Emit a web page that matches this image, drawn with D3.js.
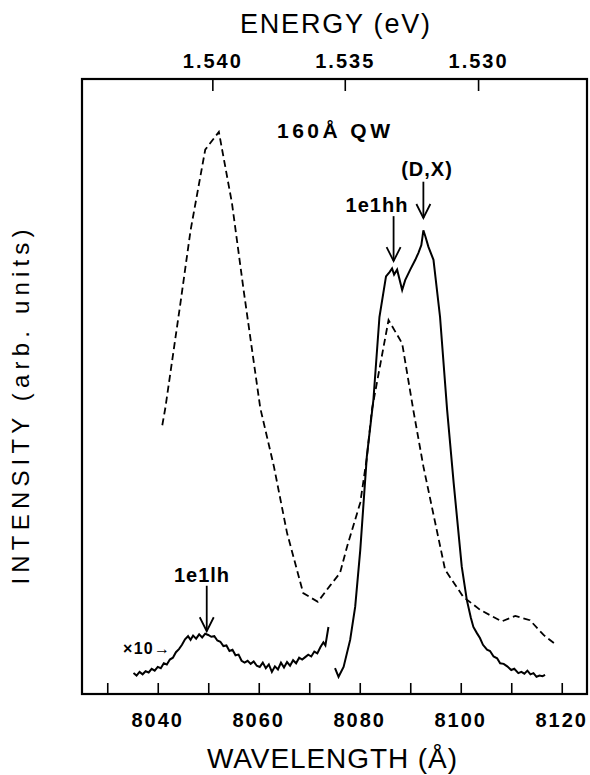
<!DOCTYPE html>
<html>
<head>
<meta charset="utf-8">
<script src="https://cdn.jsdelivr.net/npm/d3@7"></script>
<style>
  body { margin: 0; background: #fff; }
  text { font-family: "Liberation Sans", Arial, sans-serif; fill: #000; }
</style>
</head>
<body>
<script>
// reflectance-like dashed trace (wavelength A, arb. units)
var dashWl = [8040.9, 8041.5, 8044.5, 8046.5, 8049.4, 8052.1, 8054.7, 8057.0, 8060.3, 8063.0,
  8065.6, 8068.8, 8071.7, 8074.2, 8076.1, 8077.5, 8080.1, 8081.4, 8082.4, 8085.7,
  8088.4, 8090.6, 8092.6, 8096.9, 8100.5, 8103.8, 8108.1, 8110.8, 8113.7, 8116.4, 8118.9];
var dashI = [43.7, 46.5, 63.6, 75.4, 88.5, 91.4, 79.8, 65.7, 46.5, 37.0,
  26.2, 16.4, 15.0, 17.7, 19.7, 24.0, 31.1, 38.4, 46.2, 60.8,
  57.0, 46.2, 37.0, 20.2, 15.8, 13.7, 11.8, 12.7, 12.0, 9.6, 8.0];

// PL main peak (solid)
var plWl = [8075.1, 8075.8, 8076.8, 8078.1, 8079.1, 8080.1, 8081.4, 8082.7, 8083.9, 8085.2,
  8085.9, 8086.4, 8086.8, 8087.4, 8088.4, 8089.0, 8090.0, 8091.0, 8091.6, 8092.2,
  8092.6, 8093.0, 8093.6, 8094.6, 8095.9, 8097.3, 8098.6, 8100.2, 8101.2, 8102.0,
  8102.5, 8103.2, 8103.8, 8104.4, 8105.2, 8105.8, 8106.5, 8107.2, 8107.8, 8108.5,
  8109.2, 8110.0, 8110.6, 8111.4, 8112.0, 8112.6, 8113.2, 8113.8, 8114.4, 8115.0,
  8115.6, 8116.2, 8116.7];
var plI = [4.2, 2.8, 4.4, 8.8, 14.2, 23.4, 38.6, 47.8, 61.3, 67.9,
  68.6, 69.2, 68.2, 69.0, 65.7, 67.3, 69.0, 70.6, 71.7, 73.0,
  75.4, 74.4, 72.7, 70.6, 61.3, 46.2, 34.3, 20.7, 15.3, 12.4,
  10.9, 9.9, 9.1, 8.0, 7.2, 7.0, 6.1, 5.8, 5.0, 4.9,
  4.5, 3.9, 4.1, 3.4, 3.6, 3.3, 3.8, 3.2, 3.4, 2.8,
  3.0, 2.9, 3.1];

// x10 weak trace around 1e1lh
var lhWl = [8035.2, 8035.8, 8036.4, 8037.0, 8037.6, 8038.2, 8038.8, 8039.4, 8040.0, 8040.6,
  8041.2, 8041.8, 8042.4, 8043.0, 8043.6, 8044.2, 8044.8, 8045.4, 8046.0, 8046.5,
  8047.0, 8047.6, 8048.2, 8048.8, 8049.4, 8050.0, 8050.6, 8051.2, 8051.8, 8052.4,
  8053.0, 8053.6, 8054.2, 8054.8, 8055.4, 8056.0, 8056.6, 8057.2, 8057.8, 8058.4,
  8059.0, 8059.6, 8060.2, 8060.8, 8061.4, 8062.0, 8062.6, 8063.2, 8063.8, 8064.4,
  8065.0, 8065.6, 8066.2, 8066.8, 8067.4, 8068.0, 8068.6, 8069.2, 8069.8, 8070.4,
  8071.0, 8071.6, 8072.2, 8072.8, 8073.2, 8073.8];
var lhI = [3.4, 3.0, 3.6, 3.2, 3.7, 3.5, 4.1, 3.8, 4.4, 4.2,
  5.0, 4.8, 5.6, 5.9, 6.8, 7.3, 8.0, 8.9, 9.4, 8.8,
  9.5, 9.0, 9.7, 9.2, 9.8, 9.6, 9.3, 9.4, 8.7, 8.5,
  7.8, 7.9, 7.0, 7.2, 6.3, 6.4, 5.4, 5.1, 5.4, 4.9,
  5.3, 4.6, 4.4, 5.1, 4.2, 4.8, 3.6, 4.5, 4.0, 5.1,
  4.3, 5.2, 4.6, 5.5, 5.0, 5.9, 5.6, 6.0, 6.4, 6.1,
  6.9, 6.6, 7.6, 8.4, 7.9, 10.9];

var wlTicks = [8030, 8040, 8050, 8060, 8070, 8080, 8090, 8100, 8110, 8120];
var wlLabels = [8040, 8060, 8080, 8100, 8120];
var eTicks = [1.540, 1.535, 1.530];

// peak labels: text, arrow wavelength, arrow top / bottom (arb. units)
var peakNames = ['(D,X)', '1e1hh', '1e1lh'];
var peakWl = [8092.6, 8086.7, 8049.7];
var peakTop = [83.3, 77.7, 17.6];
var peakTip = [77.4, 70.4, 10.2];

var W = 590, H = 775;
var m = { left: 82, right: 3, top: 79, bottom: 81 };

var svg = d3.select('body').append('svg')
  .attr('width', W)
  .attr('height', H);

var x = d3.scaleLinear().domain([8025, 8125]).range([m.left, W - m.right]);
var y = d3.scaleLinear().domain([0, 100]).range([H - m.bottom, m.top]);
var hc = 12398.4; // eV*A

function pts(a, b) {
  return a.map(function(d, i) { return [d, b[i]]; });
}

var line = d3.line()
  .x(function(d) { return x(d[0]); })
  .y(function(d) { return y(d[1]); });

// bottom axis (ticks point inward)
var xAxis = d3.axisBottom(x).tickValues(wlTicks).tickSize(-11).tickFormat('');
svg.append('g')
  .attr('transform', 'translate(0,' + (H - m.bottom) + ')')
  .call(xAxis)
  .call(function(g) { g.select('.domain').remove(); })
  .selectAll('line').attr('stroke-width', 1.6);

svg.selectAll('.wl-label')
  .data(wlLabels)
  .enter().append('text')
  .attr('class', 'wl-label')
  .attr('x', function(d) { return x(d); })
  .attr('y', 727)
  .attr('text-anchor', 'middle')
  .style('font-size', '20px')
  .style('font-weight', 'bold')
  .style('letter-spacing', '2px')
  .text(function(d) { return d; });

// top axis in energy
svg.selectAll('.e-tick')
  .data(eTicks)
  .enter().append('line')
  .attr('x1', function(d) { return x(hc / d); })
  .attr('x2', function(d) { return x(hc / d); })
  .attr('y1', m.top)
  .attr('y2', m.top + 12)
  .attr('stroke', '#000')
  .attr('stroke-width', 1.6);

svg.selectAll('.e-label')
  .data(eTicks)
  .enter().append('text')
  .attr('x', function(d) { return x(hc / d); })
  .attr('y', 68)
  .attr('text-anchor', 'middle')
  .style('font-size', '20px')
  .style('font-weight', 'bold')
  .style('letter-spacing', '2px')
  .text(function(d) { return d3.format('.3f')(d); });

// frame
svg.append('rect')
  .attr('x', m.left)
  .attr('y', m.top)
  .attr('width', W - m.left - m.right)
  .attr('height', H - m.top - m.bottom)
  .attr('fill', 'none')
  .attr('stroke', '#000')
  .attr('stroke-width', 2.2);

// curves
svg.append('path')
  .datum(pts(dashWl, dashI))
  .attr('d', line)
  .attr('fill', 'none')
  .attr('stroke', '#000')
  .attr('stroke-width', 1.8)
  .attr('stroke-dasharray', '7,4');

svg.append('path')
  .datum(pts(plWl, plI))
  .attr('d', line)
  .attr('fill', 'none')
  .attr('stroke', '#000')
  .attr('stroke-width', 2);

svg.append('path')
  .datum(pts(lhWl, lhI))
  .attr('d', line)
  .attr('fill', 'none')
  .attr('stroke', '#000')
  .attr('stroke-width', 2);

// arrows and labels for peaks
peakNames.forEach(function(name, i) {
  var ax = x(peakWl[i]);
  var y0 = y(peakTop[i]), y1 = y(peakTip[i]);
  svg.append('line')
    .attr('x1', ax).attr('x2', ax)
    .attr('y1', y0).attr('y2', y1)
    .attr('stroke', '#000').attr('stroke-width', 1.8);
  svg.append('path')
    .attr('d', 'M' + (ax - 7) + ',' + (y1 - 14) + 'L' + ax + ',' + y1 + 'L' + (ax + 7) + ',' + (y1 - 14))
    .attr('fill', 'none').attr('stroke', '#000').attr('stroke-width', 1.8);
});

svg.append('text').attr('x', 427).attr('y', 176).attr('text-anchor', 'middle')
  .style('font-size', '20px').style('font-weight', 'bold').style('letter-spacing', '1px')
  .text(peakNames[0]);
svg.append('text').attr('x', 377).attr('y', 212).attr('text-anchor', 'middle')
  .style('font-size', '20px').style('font-weight', 'bold').style('letter-spacing', '1px')
  .text(peakNames[1]);
svg.append('text').attr('x', 202).attr('y', 582).attr('text-anchor', 'middle')
  .style('font-size', '20px').style('font-weight', 'bold').style('letter-spacing', '1px')
  .text(peakNames[2]);

svg.append('text').attr('x', 277).attr('y', 138)
  .style('font-size', '21px').style('font-weight', 'bold')
  .attr('textLength', 113).attr('lengthAdjust', 'spacing')
  .text('160Å QW');

svg.append('text').attr('x', 123).attr('y', 654)
  .style('font-size', '16px').style('font-weight', 'bold')
  .attr('textLength', 47).attr('lengthAdjust', 'spacing')
  .text('×10→');

// axis titles
svg.append('text').attr('x', 335).attr('y', 33).attr('text-anchor', 'middle')
  .style('font-size', '27px')
  .attr('textLength', 190).attr('lengthAdjust', 'spacing')
  .text('ENERGY (eV)');

svg.append('text').attr('x', 332).attr('y', 768).attr('text-anchor', 'middle')
  .style('font-size', '28px')
  .attr('textLength', 250).attr('lengthAdjust', 'spacing')
  .text('WAVELENGTH (Å)');

svg.append('text')
  .attr('transform', 'translate(29,407) rotate(-90)')
  .attr('text-anchor', 'middle')
  .style('font-size', '24px')
  .attr('textLength', 355).attr('lengthAdjust', 'spacing')
  .text('INTENSITY  (arb. units)');
</script>
</body>
</html>
